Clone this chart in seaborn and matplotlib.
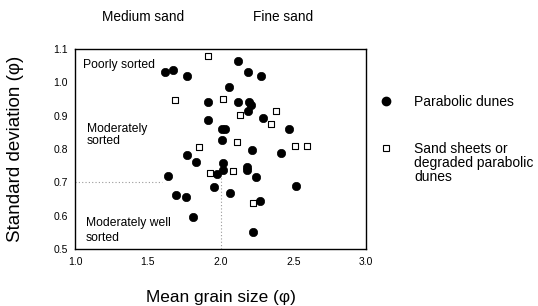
import matplotlib
matplotlib.use("Agg")
import matplotlib.pyplot as plt
import seaborn as sns
import pandas as pd
from matplotlib.lines import Line2D

# Parabolic dunes (filled circles)
dune_x = [1.62, 1.67, 1.77, 2.12, 2.19, 2.275, 2.057, 1.916, 2.123, 2.198, 2.21,
          2.19, 2.295, 1.916, 2.468, 2.012, 2.03, 2.008, 2.216, 2.415, 1.767, 1.83,
          2.019, 2.017, 1.974, 2.18, 2.183, 2.242, 1.636, 1.954, 2.062, 1.691,
          1.764, 1.808, 2.268, 2.222, 2.52]
dune_y = [1.032, 1.037, 1.02, 1.065, 1.032, 1.02, 0.985, 0.94, 0.942, 0.94, 0.932,
          0.913, 0.894, 0.886, 0.86, 0.861, 0.861, 0.826, 0.797, 0.789, 0.781, 0.761,
          0.757, 0.736, 0.725, 0.745, 0.737, 0.717, 0.72, 0.686, 0.668, 0.662,
          0.657, 0.596, 0.645, 0.55, 0.688]

# Sand sheets or degraded parabolic dunes (open squares)
sheet_x = [1.91, 1.686, 2.02, 2.137, 2.38, 2.345, 1.854, 2.115, 2.509, 2.594,
           1.928, 2.088, 2.226]
sheet_y = [1.078, 0.947, 0.95, 0.902, 0.913, 0.875, 0.805, 0.82, 0.81, 0.81,
           0.729, 0.734, 0.639]

x_ticks = [1.0, 1.5, 2.0, 2.5, 3.0]
y_ticks = [0.5, 0.6, 0.7, 0.8, 0.9, 1.0, 1.1]
sand_boundary = 2.0
sorting_boundary = 0.7

sns.set_theme(style="white")
plt.rcParams['font.family'] = ['Liberation Sans', 'DejaVu Sans']
plt.rcParams['text.color'] = 'black'
plt.rcParams['axes.labelcolor'] = 'black'
plt.rcParams['xtick.color'] = 'black'
plt.rcParams['ytick.color'] = 'black'

dunes = pd.DataFrame({"x": dune_x, "y": dune_y})
sheets = pd.DataFrame({"x": sheet_x, "y": sheet_y})

fig = plt.figure(figsize=(5.38, 3.06), dpi=100)
ax = fig.add_axes([0.140, 0.186, 0.540, 0.654])

# reference lines (partial dotted)
ax.axhline(sorting_boundary, xmin=0, xmax=0.30, color="#999999", lw=0.8, ls=(0, (1, 2)), zorder=1)
ax.axvline(sand_boundary, ymin=0, ymax=0.36, color="#999999", lw=0.8, ls=(0, (1, 2)), zorder=1)

sns.scatterplot(data=dunes, x="x", y="y", ax=ax, marker="o", s=36,
                color="black", edgecolor="black", linewidth=0.5, zorder=3)
sns.scatterplot(data=sheets, x="x", y="y", ax=ax, marker="s", s=20,
                facecolor="white", edgecolor="black", linewidth=0.8, zorder=3)

ax.set_xlim(1.0, 3.0)
ax.set_ylim(0.5, 1.1)
ax.set_xticks(x_ticks)
ax.set_yticks(y_ticks)
ax.set_xticklabels([f"{v:.1f}" for v in x_ticks], fontsize=7.5)
ax.set_yticklabels([f"{v:.1f}" for v in y_ticks], fontsize=7.5)
ax.tick_params(direction="inout", length=5, width=0.8, color="black", labelcolor="black", pad=3)
for sp in ax.spines.values():
    sp.set_color("black")
    sp.set_linewidth(1.0)

ax.set_xlabel("Mean grain size (\u03c6)", fontsize=12.4, labelpad=17, color="black")
ax.set_ylabel("Standard deviation (\u03c6)", fontsize=13.5, labelpad=21, color="black")

# region annotations
ax.text(0.026, 0.92, "Poorly sorted", transform=ax.transAxes, fontsize=8.7, va="center")
ax.text(0.039, 0.571, "Moderately\nsorted", transform=ax.transAxes, fontsize=8.7, va="center",
        linespacing=1.0)
ax.text(0.036, 0.0925, "Moderately well\nsorted", transform=ax.transAxes, fontsize=8.7,
        va="center", linespacing=1.25)

fig.text(143 / 538, 1 - 17 / 306, "Medium sand", fontsize=9.8, ha="center", va="center")
fig.text(283 / 538, 1 - 17 / 306, "Fine sand", fontsize=9.8, ha="center", va="center")

# legend
handles = [
    Line2D([], [], marker="o", ls="", markersize=6, markerfacecolor="black",
           markeredgecolor="black"),
    Line2D([], [], marker="s", ls="", markersize=4.5, markerfacecolor="white",
           markeredgecolor="black", markeredgewidth=0.8),
]
leg = fig.legend(handles, ["Parabolic dunes", "Sand sheets or"], loc="upper left",
                 bbox_to_anchor=(372 / 538, 1 - 88 / 306), frameon=False, fontsize=10,
                 handletextpad=1.55, labelspacing=2.38, handlelength=1.0, borderpad=0)
fig.text(414 / 538, 1 - 156 / 306, "degraded parabolic\ndunes", fontsize=10,
         va="top", ha="left", linespacing=1.0)

fig.savefig("out.png", dpi=100)
